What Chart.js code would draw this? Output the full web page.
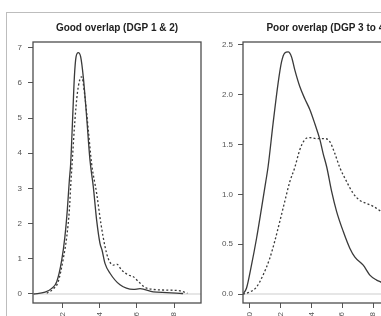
<!DOCTYPE html>
<html><head><meta charset="utf-8">
<script src="https://cdn.jsdelivr.net/npm/chart.js@4/dist/chart.umd.min.js"></script>
<style>
html,body{margin:0;padding:0;width:381px;height:316px;overflow:hidden;background:#fff}
#frame{position:absolute;left:6px;top:12px;width:420px;height:330px;border-top:1px solid #bdbdbd;border-left:1px solid #bdbdbd}
canvas{position:absolute;top:0}
#c1{left:0}
#c2{left:205px}
</style></head><body>
<div id="frame"></div>
<canvas id="c1" width="205" height="330"></canvas>
<canvas id="c2" width="250" height="330"></canvas>
<script>
// ---- Panel 1: Good overlap ----
const goodTitle = 'Good overlap (DGP 1 & 2)';
const goodSolidX = [0.043,0.105,0.141,0.168,0.195,0.212,0.225,0.236,0.243,0.254,0.263,0.272,0.284,0.297,0.311,0.329,0.347,0.365,0.383,0.401,0.412,0.428,0.455,0.509,0.581,0.617,0.688,0.761,0.832,0.849];
const goodSolidY = [0.0,0.05,0.16,0.35,0.97,1.63,2.39,3.24,3.7,5.04,6.17,6.74,6.86,6.74,6.17,5.04,3.81,3.05,2.1,1.44,1.25,0.87,0.59,0.26,0.13,0.15,0.06,0.04,0.02,0.01];
const goodDottedX = [0.114,0.149,0.176,0.203,0.222,0.236,0.245,0.252,0.266,0.279,0.293,0.302,0.320,0.338,0.356,0.383,0.406,0.428,0.446,0.473,0.491,0.518,0.554,0.581,0.599,0.644,0.688,0.761,0.832,0.872];
const goodDottedY = [0.02,0.14,0.35,1.0,1.63,2.39,3.24,3.81,4.94,5.7,6.1,6.17,5.6,4.66,3.7,2.86,2.0,1.35,1.0,0.82,0.85,0.68,0.54,0.49,0.40,0.19,0.13,0.11,0.09,0.02];
const goodXTicks = [0.2,0.4,0.6,0.8];
const goodXLabels = ['0.2','0.4','0.6','0.8'];
const goodYTicks = [0,1,2,3,4,5,6,7];
const goodYLabels = ['0','1','2','3','4','5','6','7'];

// ---- Panel 2: Poor overlap ----
const poorTitle = 'Poor overlap (DGP 3 to 4)';
const poorSolidX = [-0.044,-0.021,0.011,0.044,0.076,0.104,0.119,0.151,0.184,0.206,0.227,0.249,0.271,0.292,0.325,0.357,0.390,0.422,0.455,0.476,0.500,0.531,0.563,0.606,0.649,0.682,0.736,0.779,0.823,0.851,0.87];
const poorSolidY = [0.0,0.06,0.29,0.56,0.86,1.13,1.28,1.71,2.12,2.33,2.42,2.43,2.38,2.25,2.08,1.96,1.85,1.71,1.55,1.41,1.27,1.03,0.83,0.63,0.46,0.37,0.29,0.19,0.14,0.12,0.10];
const poorDottedX = [-0.044,0.0,0.044,0.086,0.130,0.162,0.195,0.227,0.260,0.292,0.325,0.357,0.390,0.433,0.487,0.519,0.552,0.584,0.628,0.671,0.714,0.758,0.801,0.851,0.87];
const poorDottedY = [0.0,0.02,0.07,0.19,0.36,0.53,0.73,0.93,1.13,1.27,1.45,1.55,1.57,1.56,1.56,1.53,1.41,1.27,1.13,1.01,0.94,0.91,0.88,0.83,0.81];
const poorXTicks = [0,0.2,0.4,0.6,0.8,1.0];
const poorXLabels = ['0.0','0.2','0.4','0.6','0.8','1.0'];
const poorYTicks = [0,0.5,1,1.5,2,2.5];
const poorYLabels = ['0.0','0.5','1.0','1.5','2.0','2.5'];

const FONT = '"Liberation Sans", Arial, sans-serif';

const panelPlugin = {
  id: 'panelDeco',
  beforeDatasetsDraw(chart) {
    const ca = chart.chartArea, ctx = chart.ctx;
    const y0 = chart.scales.y.getPixelForValue(0);
    ctx.save();
    ctx.strokeStyle = '#dedede';
    ctx.lineWidth = 1.5;
    ctx.beginPath();
    ctx.moveTo(ca.left, y0);
    ctx.lineTo(ca.right, y0);
    ctx.stroke();
    ctx.restore();
  },
  afterDraw(chart) {
    const ca = chart.chartArea, ctx = chart.ctx;
    ctx.save();
    ctx.strokeStyle = '#4d4d4d';
    ctx.lineWidth = 1.3;
    ctx.strokeRect(ca.left, ca.top, ca.right - ca.left, ca.bottom - ca.top);
    ctx.fillStyle = '#222';
    ctx.font = 'bold 10px ' + FONT;
    ctx.textAlign = 'center';
    ctx.textBaseline = 'middle';
    ctx.fillText(chart.options.plugins.panelDeco.title, (ca.left + ca.right) / 2, 28);
    ctx.restore();
  }
};

function makePanel(id, p) {
  const pts = (xs, ys) => xs.map((x, i) => ({x: x, y: ys[i]}));
  return new Chart(document.getElementById(id), {
    type: 'line',
    data: {datasets: [
      {data: pts(p.solidX, p.solidY), borderColor: '#3a3a3a', borderWidth: 1.3, pointRadius: 0, cubicInterpolationMode: 'monotone', fill: false},
      {data: pts(p.dottedX, p.dottedY), borderColor: '#3a3a3a', borderWidth: 1.3, borderDash: [2, 2.2], pointRadius: 0, cubicInterpolationMode: 'monotone', fill: false}
    ]},
    options: {
      responsive: false,
      animation: false,
      events: [],
      layout: {padding: {left: 0, right: p.padRight, top: 42, bottom: 0}},
      plugins: {legend: {display: false}, tooltip: {enabled: false}, title: {display: false}, panelDeco: {title: p.title}},
      scales: {
        x: {
          type: 'linear', min: p.xMin, max: p.xMax,
          afterBuildTicks: s => { s.ticks = p.xTicks.map(v => ({value: v})); },
          afterFit: s => { s.height = 27; },
          grid: {drawOnChartArea: false, drawTicks: true, tickLength: 5, color: '#555', tickWidth: 1},
          border: {display: false},
          ticks: {autoSkip: false, minRotation: 90, maxRotation: 90, padding: 4, color: '#555',
                  font: {family: FONT, size: 8}, callback: (v, i) => p.xLabels[i]}
        },
        y: {
          type: 'linear', min: p.yMin, max: p.yMax,
          afterBuildTicks: s => { s.ticks = p.yTicks.map(v => ({value: v})); },
          afterFit: s => { s.width = p.yAxisW; },
          grid: {drawOnChartArea: false, drawTicks: true, tickLength: 5, color: '#555', tickWidth: 1},
          border: {display: false},
          ticks: {autoSkip: false, padding: p.yPad, color: '#555',
                  font: {family: FONT, size: 8}, callback: (v, i) => p.yLabels[i]}
        }
      }
    },
    plugins: [panelPlugin]
  });
}

makePanel('c1', {
  title: goodTitle,
  solidX: goodSolidX, solidY: goodSolidY, dottedX: goodDottedX, dottedY: goodDottedY,
  xTicks: goodXTicks, xLabels: goodXLabels, yTicks: goodYTicks, yLabels: goodYLabels,
  xMin: 0.04, xMax: 0.9455, yMin: -0.256, yMax: 7.16,
  yAxisW: 33, padRight: 4, yPad: 6
});
makePanel('c2', {
  title: poorTitle,
  solidX: poorSolidX, solidY: poorSolidY, dottedX: poorDottedX, dottedY: poorDottedY,
  xTicks: poorXTicks, xLabels: poorXLabels, yTicks: poorYTicks, yLabels: poorYLabels,
  xMin: -0.044, xMax: 1.046, yMin: -0.09, yMax: 2.53,
  yAxisW: 38, padRight: 44, yPad: 5
});
</script></body></html>
